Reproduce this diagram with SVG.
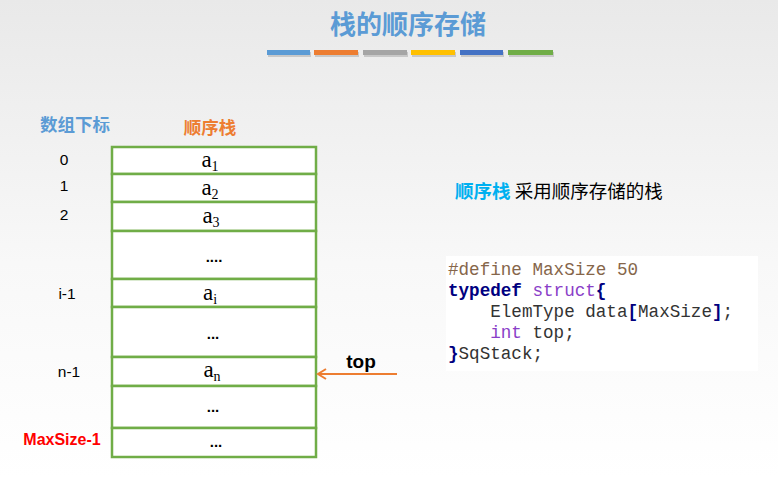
<svg xmlns="http://www.w3.org/2000/svg" width="778" height="477" viewBox="0 0 778 477">
<defs>
<linearGradient id="bg" x1="0" y1="0" x2="0" y2="1">
<stop offset="0" stop-color="#e9e9e9"/>
<stop offset="0.55" stop-color="#f8f8f8"/>
<stop offset="1" stop-color="#ffffff"/>
</linearGradient>
<marker id="arr" markerWidth="12" markerHeight="12" refX="10" refY="6" orient="auto" markerUnits="userSpaceOnUse">
<path d="M2,1 L10,6 L2,11" fill="none" stroke="#ed7d31" stroke-width="2"/>
</marker>
</defs>
<style>
.cell{fill:#ffffff;stroke:#70ad47;stroke-width:2.5}
.idx{font-family:"Liberation Sans","Noto Sans",sans-serif;font-size:15.5px;fill:#000;text-anchor:middle}
.el{font-family:"Liberation Serif",serif;font-size:23px;fill:#000;text-anchor:middle}
.sub{font-size:14px}
.dots{font-family:"Liberation Sans",sans-serif;font-size:15px;font-weight:bold;fill:#000;text-anchor:middle}
.code{font-family:"Liberation Mono",monospace;font-size:17.6px;fill:#333}
.kw{fill:#000080;font-weight:bold}
.ty{fill:#8a3ec8}
.pp{fill:#86664a}
.cjk{font-family:"Noto Sans CJK SC",sans-serif}
</style>
<rect width="778" height="477" fill="url(#bg)"/>
<text x="408" y="34" text-anchor="middle" class="cjk" font-size="26" font-weight="bold" fill="#5b9bd5">栈的顺序存储</text>
<g id="bars">
<g fill="#000" opacity="0.15">
<rect x="268" y="52" width="43" height="5"/><rect x="315" y="52" width="44" height="5"/><rect x="364" y="52" width="44" height="5"/><rect x="412" y="52" width="44" height="5"/><rect x="461" y="52" width="43" height="5"/><rect x="509" y="52" width="45" height="5"/>
</g>
<rect x="267" y="50" width="43" height="5" fill="#5b9bd5"/>
<rect x="314" y="50" width="44" height="5" fill="#ed7d31"/>
<rect x="363" y="50" width="44" height="5" fill="#a5a5a5"/>
<rect x="411" y="50" width="44" height="5" fill="#ffc000"/>
<rect x="460" y="50" width="43" height="5" fill="#4472c4"/>
<rect x="508" y="50" width="45" height="5" fill="#70ad47"/>
</g>
<text x="75" y="131" text-anchor="middle" class="cjk" font-size="17.5" font-weight="bold" fill="#5b9bd5">数组下标</text>
<text x="210" y="134" text-anchor="middle" class="cjk" font-size="17.5" font-weight="bold" fill="#ed7d31">顺序栈</text>
<g id="stack">
<g id="cell0"><rect class="cell" x="112" y="147" width="204" height="27"/><text class="el" x="210" y="167">a<tspan class="sub" dy="4">1</tspan></text></g>
<g id="cell1"><rect class="cell" x="112" y="174" width="204" height="28"/><text class="el" x="210" y="195">a<tspan class="sub" dy="4">2</tspan></text></g>
<g id="cell2"><rect class="cell" x="112" y="202" width="204" height="29"/><text class="el" x="211" y="223">a<tspan class="sub" dy="4">3</tspan></text></g>
<g id="cell3"><rect class="cell" x="112" y="231" width="204" height="48"/><text class="dots" x="214" y="262">....</text></g>
<g id="cell4"><rect class="cell" x="112" y="279" width="204" height="28"/><text class="el" x="210" y="300">a<tspan class="sub" dy="4">i</tspan></text></g>
<g id="cell5"><rect class="cell" x="112" y="307" width="204" height="50"/><text class="dots" x="213" y="339">...</text></g>
<g id="cell6"><rect class="cell" x="112" y="357" width="204" height="29"/><text class="el" x="212" y="377">a<tspan class="sub" dy="4">n</tspan></text></g>
<g id="cell7"><rect class="cell" x="112" y="386" width="204" height="42"/><text class="dots" x="213" y="412">...</text></g>
<g id="cell8"><rect class="cell" x="112" y="428" width="204" height="29"/><text class="dots" x="216" y="447">...</text></g>
</g>
<g id="indices">
<text class="idx" x="64" y="165">0</text>
<text class="idx" x="64" y="191">1</text>
<text class="idx" x="64" y="220">2</text>
<text class="idx" x="67" y="299">i-1</text>
<text class="idx" x="69" y="377">n-1</text>
<text class="idx" x="62" y="445" font-weight="bold" style="fill:#ff0000;font-size:16px">MaxSize-1</text>
</g>
<g id="top-label"><text x="361" y="368" text-anchor="middle" font-family="Liberation Sans,sans-serif" font-size="19" font-weight="bold" fill="#000">top</text></g>
<g id="connectors">
<line x1="397" y1="374" x2="318" y2="374" stroke="#ed7d31" stroke-width="2" marker-end="url(#arr)"/>
</g>
<text x="455" y="198" class="cjk" font-size="18.5"><tspan font-weight="bold" fill="#00b0f0">顺序栈</tspan><tspan fill="#000"> 采用顺序存储的栈</tspan></text>
<g id="code">
<rect x="446" y="256" width="312" height="115" fill="#ffffff"/>
<text class="code" x="448" y="275"><tspan class="pp">#define MaxSize 50</tspan></text>
<text class="code" x="448" y="296"><tspan class="kw">typedef</tspan> <tspan class="ty">struct</tspan><tspan class="kw">{</tspan></text>
<text class="code" x="448" y="317" xml:space="preserve">    ElemType data<tspan class="kw">[</tspan>MaxSize<tspan class="kw">]</tspan>;</text>
<text class="code" x="448" y="338" xml:space="preserve">    <tspan class="ty">int</tspan> top;</text>
<text class="code" x="448" y="359"><tspan class="kw">}</tspan>SqStack;</text>
</g>
</svg>
